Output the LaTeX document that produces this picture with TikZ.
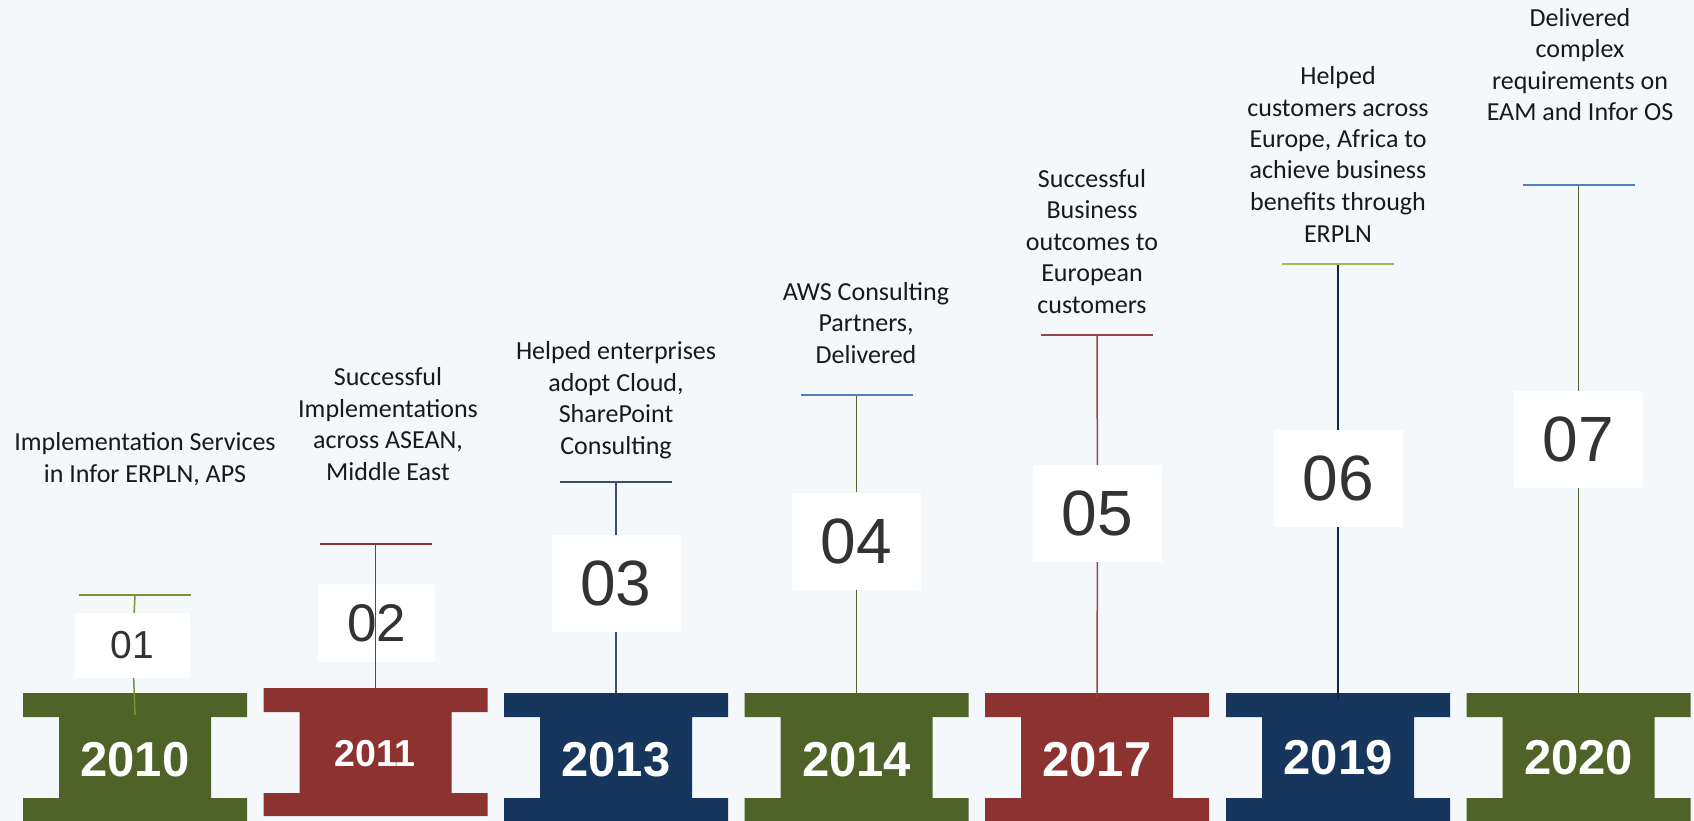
\documentclass[tikz,border=0pt]{standalone}
\usepackage{fontspec}
\setmainfont{Carlito}
\setsansfont{Liberation Sans}
\usepackage{xcolor}
\usepackage{tikz}
\usetikzlibrary{positioning,calc}

\definecolor{pagebg}{RGB}{244,248,251}
\definecolor{olivedark}{RGB}{79,98,40}
\definecolor{brickred}{RGB}{140,51,50}
\definecolor{navyblue}{RGB}{23,54,93}
\definecolor{olivelight}{RGB}{119,147,60}
\definecolor{steelblue}{RGB}{79,129,189}
\definecolor{limegreen}{RGB}{155,187,89}
\definecolor{slatenavy}{RGB}{59,78,110}
\definecolor{inknavy}{RGB}{15,36,62}
\definecolor{rosered}{RGB}{150,70,70}
\definecolor{numgray}{RGB}{51,51,51}

\begin{document}
\begin{tikzpicture}[x=1pt, y=-1pt,
    yearblock/.pic={\fill (-112,0) -- (112,0) -- (112,24) -- (76,24) -- (76,105) -- (112,105)
        -- (112,128) -- (-112,128) -- (-112,105) -- (-76,105) -- (-76,24) -- (-112,24) -- cycle;},
    year/.style={text=white, inner sep=0pt, font=\sffamily\bfseries\fontsize{49}{49}\selectfont},
    numbox/.style={fill=white, inner sep=0pt, minimum width=129pt, minimum height=97pt,
        text=numgray, font=\sffamily\fontsize{64}{64}\selectfont},
    milestone/.style={anchor=base, align=center, inner sep=0pt, text=black!90,
        font=\fontsize{26}{31.5}\selectfont},
    tbar/.style={line width=2pt},
    stem/.style={line width=1.5pt}]

    \useasboundingbox[fill=pagebg] (0,0) rectangle (1694,821);

    % year blocks
    \pic[olivedark] at (135,693) {yearblock};
    \pic[brickred] at (375.5,688) {yearblock};
    \pic[navyblue] at (616,693) {yearblock};
    \pic[olivedark] at (856.5,693) {yearblock};
    \pic[brickred] at (1097,693) {yearblock};
    \pic[navyblue] at (1338,693) {yearblock};
    \pic[olivedark] at (1578.5,693) {yearblock};

    \node (yr10) at (135,759.5) [year] {2010};
    \node (yr11) at (375,753.5) [year, font=\sffamily\bfseries\fontsize{37.5}{37.5}\selectfont] {2011};
    \node (yr13) at (616,759.5) [year] {2013};
    \node (yr14) at (856.5,759.5) [year] {2014};
    \node (yr17) at (1097,759.5) [year] {2017};
    \node (yr19) at (1338,758) [year] {2019};
    \node (yr20) at (1578.5,758) [year] {2020};

    % T bars and stem ends
    \coordinate (b1) at (135,595);
    \coordinate (b2) at (375.5,544);
    \coordinate (b3) at (616,482);
    \coordinate (b4) at (856.5,395);
    \coordinate (b5) at (1097,335);
    \coordinate (b6) at (1338,264);
    \coordinate (b7) at (1578.5,185);
    \coordinate (e1) at (135,715);
    \coordinate (e2) at (375.5,688);
    \coordinate (e3) at (616,693);
    \coordinate (e4) at (856.5,693);
    \coordinate (e5) at (1097,698);
    \coordinate (e6) at (1338,700);
    \coordinate (e7) at (1578.5,693);

    % number boxes
    \node (n1) at (132.5,645.5) [numbox, minimum width=115pt, minimum height=65pt,
        font=\sffamily\fontsize{39}{39}\selectfont] {01};
    \node (n2) at (376.5,623) [numbox, minimum width=117pt, minimum height=78pt,
        font=\sffamily\fontsize{53}{53}\selectfont] {02};
    \node (n3) at (616,583.5) [numbox] {03};
    \node (n4) at (856.5,541) [numbox] {04};
    \node (n5) at (1097.5,513.5) [numbox] {05};
    \node (n6) at (1338,478.5) [numbox] {06};
    \node (n7) at (1578.5,439.5) [numbox] {07};

    \draw[stem, olivelight] (b1) -- (n1) -- (e1);
    \draw[stem, brickred] (b2) -- (e2);
    \draw[stem, slatenavy] (b3) -- (n3) -- (e3);
    \draw[stem, olivedark] (b4) -- (n4) -- (e4);
    \draw[stem, rosered] (b5) -- (n5) -- (e5);
    \draw[stem, inknavy] (b6) -- (n6) -- (e6);
    \draw[stem, olivedark] (b7) -- (n7) -- (e7);

    \draw[tbar, olivelight] ([xshift=-56pt]b1) -- ([xshift=56pt]b1);
    \draw[tbar, brickred] ([xshift=-56pt]b2) -- ([xshift=56pt]b2);
    \draw[tbar, slatenavy] ([xshift=-56pt]b3) -- ([xshift=56pt]b3);
    \draw[tbar, steelblue] ([xshift=-56pt]b4) -- ([xshift=56pt]b4);
    \draw[tbar, rosered] ([xshift=-56pt]b5) -- ([xshift=56pt]b5);
    \draw[tbar, limegreen] ([xshift=-56pt]b6) -- ([xshift=56pt]b6);
    \draw[tbar, steelblue] ([xshift=-56pt]b7) -- ([xshift=56pt]b7);

    % milestone texts (anchored at the last line)
    \node (t1) at (145,482) [milestone] {Implementation Services\\in Infor ERPLN, APS};
    \node (t2) at (388,480) [milestone] {Successful\\Implementations\\across ASEAN,\\Middle East};
    \node (t3) at (616,454) [milestone] {Helped enterprises\\adopt Cloud,\\SharePoint\\Consulting};
    \node (t4) at (866,363) [milestone] {AWS Consulting\\Partners,\\Delivered};
    \node (t5) at (1092,313) [milestone] {Successful\\Business\\outcomes to\\European\\customers};
    \node (t6) at (1338,242) [milestone] {Helped\\customers across\\Europe, Africa to\\achieve business\\benefits through\\ERPLN};
    \node (t7) at (1580,121) [milestone] {Delivered\\complex\\requirements on\\EAM and Infor OS};
\end{tikzpicture}
\end{document}
